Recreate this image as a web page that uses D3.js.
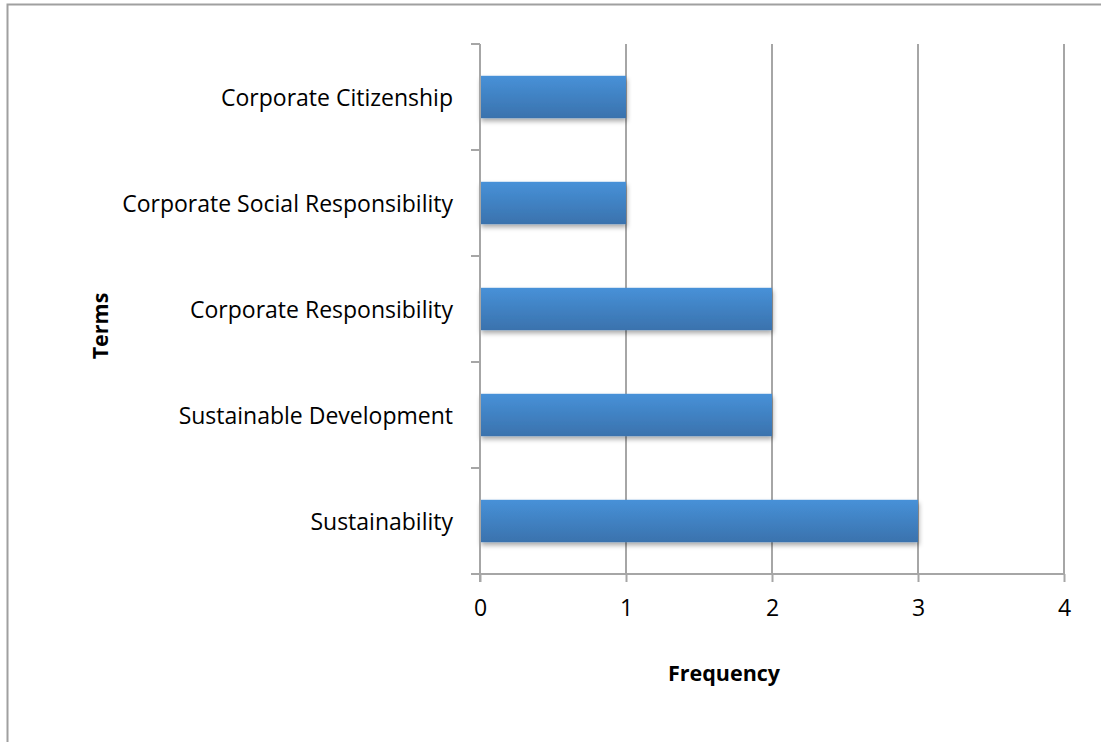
<!DOCTYPE html>
<html>
<head>
<meta charset="utf-8">
<script src="https://cdn.jsdelivr.net/npm/d3@7"></script>
<style>
  html, body { margin: 0; padding: 0; background: #fff; }
  svg { display: block; font-family: "Open Sans", Lato, sans-serif; }
</style>
</head>
<body>
<svg id="chart" width="1101" height="742"></svg>
<script>
// Term usage counts
const terms = [
  "Sustainability",
  "Sustainable Development",
  "Corporate Responsibility",
  "Corporate Social Responsibility",
  "Corporate Citizenship"
];
const frequency = [3, 2, 2, 1, 1];
const xTicks = [0, 1, 2, 3, 4];
const xTitle = "Frequency";
const yTitle = "Terms";

const svg = d3.select("#chart");
const W = 1101, H = 742;
const FONT = 23;
const TITLE_FONT = 21.5;

// outer frame
svg.append("rect")
  .attr("x", 7.5).attr("y", 4.5)
  .attr("width", W + 10).attr("height", H + 10)
  .attr("fill", "#fff").attr("stroke", "#a0a0a0").attr("stroke-width", 2);

const plot = { left: 480, right: 1064, top: 44, bottom: 574 };

const x = d3.scaleLinear().domain([0, 4]).range([plot.left, plot.right]);
const y = d3.scaleBand()
  .domain(terms.slice().reverse())
  .range([plot.top, plot.bottom])
  .paddingInner(0.6).paddingOuter(0.3);
const yTicksScale = d3.scaleBand().domain(y.domain()).range([plot.top, plot.bottom]);

const defs = svg.append("defs");
const grad = defs.append("linearGradient").attr("id", "barGrad")
  .attr("x1", 0).attr("y1", 0).attr("x2", 0).attr("y2", 1);
grad.append("stop").attr("offset", "0%").attr("stop-color", "#4791d8");
grad.append("stop").attr("offset", "100%").attr("stop-color", "#3a72ad");

const shadow = defs.append("filter").attr("id", "shadow")
  .attr("x", "-5%").attr("y", "-20%").attr("width", "115%").attr("height", "160%");
shadow.append("feGaussianBlur").attr("in", "SourceAlpha").attr("stdDeviation", 2.5);
shadow.append("feOffset").attr("dx", 1).attr("dy", 3).attr("result", "ob");
shadow.append("feComponentTransfer").append("feFuncA").attr("type", "linear").attr("slope", 0.35);
const merge = shadow.append("feMerge");
merge.append("feMergeNode");
merge.append("feMergeNode").attr("in", "SourceGraphic");

// vertical gridlines
svg.append("g")
  .selectAll("line")
  .data(xTicks.slice(1))
  .join("line")
  .attr("x1", d => x(d)).attr("x2", d => x(d))
  .attr("y1", plot.top).attr("y2", plot.bottom)
  .attr("stroke", "#a6a6a6").attr("stroke-width", 2);

// bars
svg.append("g")
  .selectAll("rect")
  .data(terms.map((t, i) => ({ term: t, value: frequency[i] })))
  .join("rect")
  .attr("x", x(0))
  .attr("y", d => y(d.term))
  .attr("width", d => x(d.value) - x(0))
  .attr("height", y.bandwidth())
  .attr("fill", "url(#barGrad)")
  .attr("filter", "url(#shadow)");

// x axis
const xAxis = svg.append("g")
  .attr("transform", `translate(0,${plot.bottom})`)
  .call(d3.axisBottom(x).tickValues(xTicks).tickSize(8).tickPadding(18).tickFormat(d3.format("d")));
xAxis.select(".domain").remove();
xAxis.append("line")
  .attr("x1", plot.left - 9).attr("x2", plot.right)
  .attr("stroke", "#a6a6a6").attr("stroke-width", 2);
xAxis.selectAll(".tick line").attr("stroke", "#a6a6a6").attr("stroke-width", 2);
xAxis.selectAll(".tick text")
  .attr("fill", "#000").attr("font-size", FONT).attr("font-family", "'Open Sans', sans-serif");

// y axis
const yAxis = svg.append("g").attr("transform", `translate(${plot.left},0)`);
yAxis.append("line")
  .attr("x1", 0).attr("x2", 0).attr("y1", plot.top).attr("y2", plot.bottom + 8)
  .attr("stroke", "#a6a6a6").attr("stroke-width", 2);
const boundaries = terms.map(t => yTicksScale(t)).concat([plot.bottom]);
yAxis.selectAll("line.tk")
  .data(boundaries)
  .join("line").attr("class", "tk")
  .attr("x1", -9).attr("x2", 0)
  .attr("y1", d => d).attr("y2", d => d)
  .attr("stroke", "#a6a6a6").attr("stroke-width", 2);
yAxis.selectAll("text")
  .data(terms)
  .join("text")
  .attr("x", -27)
  .attr("y", d => y(d) + y.bandwidth() / 2)
  .attr("dy", "0.4em")
  .attr("text-anchor", "end")
  .attr("font-size", FONT)
  .attr("fill", "#000")
  .text(d => d);

// axis titles
svg.append("text")
  .attr("x", (plot.left + plot.right) / 2 - 48).attr("y", 681)
  .attr("text-anchor", "middle")
  .attr("font-size", TITLE_FONT).attr("font-weight", "bold")
  .text(xTitle);
svg.append("text")
  .attr("transform", "translate(108,326) rotate(-90)")
  .attr("text-anchor", "middle")
  .attr("font-size", TITLE_FONT).attr("font-weight", "bold")
  .text(yTitle);
</script>
</body>
</html>
